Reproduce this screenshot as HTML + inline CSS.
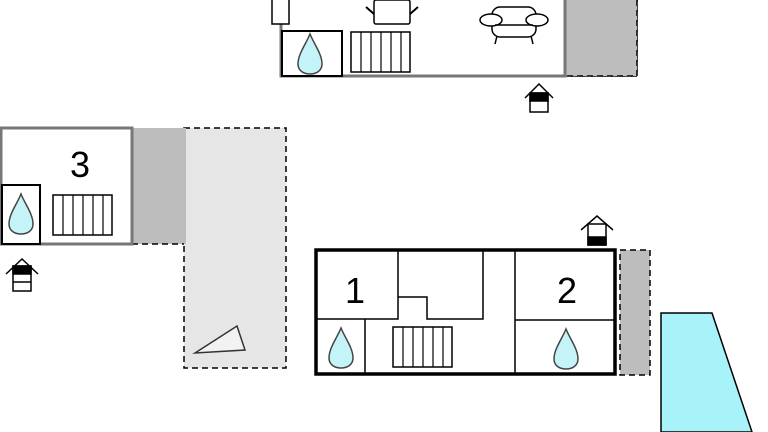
<!DOCTYPE html><html><head><style>body{margin:0;background:#fff}svg{display:block}</style></head><body>
<svg width="768" height="432" viewBox="0 0 768 432" xmlns="http://www.w3.org/2000/svg" font-family="Liberation Sans, sans-serif">
<defs>
<g id="drop"><path d="M0,-20 C-4,-10 -12,0 -12,10 C-12,17 -6,20 0,20 C6,20 12,17 12,10 C12,0 4,-10 0,-20Z" fill="#c4f4f8" stroke="#444" stroke-width="1.5"/></g>
<g id="rad"><rect x="0" y="0" width="59" height="40" fill="#fff" stroke="#000" stroke-width="1.5"/><path d="M10,0V40M20,0V40M30,0V40M40,0V40M50,0V40" stroke="#000" stroke-width="1.2"/></g>
</defs>
<!-- pool -->
<polygon points="661,313 712,313 752,432 661,432" fill="#a8f2fa" stroke="#000" stroke-width="1.5"/>
<!-- top building -->
<rect x="565" y="-2" width="72" height="78" fill="#bdbdbd" stroke="#000" stroke-width="1.5" stroke-dasharray="6,4"/>
<rect x="565" y="-2" width="72" height="78" fill="#bdbdbd"/>
<path d="M637,0V76H565" fill="none" stroke="#000" stroke-width="1.5" stroke-dasharray="6,4"/>
<path d="M281,0V76H565V0" fill="none" stroke="#777" stroke-width="3"/>
<rect x="272" y="-2" width="17" height="26" fill="#fff" stroke="#000" stroke-width="1.5"/>
<rect x="282" y="31" width="60" height="45" fill="#fff" stroke="#000" stroke-width="2"/>
<use href="#drop" transform="translate(310,54)"/>
<use href="#rad" transform="translate(351,32)"/>
<rect x="374" y="0" width="36" height="24" rx="2" fill="#fff" stroke="#000" stroke-width="1.5"/>
<path d="M366,7L374,14M418,7L410,14" stroke="#000" stroke-width="2"/>
<g fill="#fff" stroke="#000" stroke-width="1.5"><rect x="492" y="7" width="44" height="30" rx="8"/><ellipse cx="491" cy="20" rx="11" ry="6"/><ellipse cx="537" cy="20" rx="11" ry="6"/><path d="M495,25H533M497,36L495,44M531,36L533,44"/></g>
<!-- door icon top -->
<g transform="translate(539,98)" stroke="#000" stroke-width="1.5" fill="#fff"><path d="M-14,0L0,-14L14,0" fill="none"/><rect x="-9" y="-5" width="18" height="19"/><rect x="-9" y="-5" width="18" height="8" fill="#000"/></g>
<!-- building 3 -->
<rect x="184" y="128" width="102" height="240" fill="#e6e6e6" stroke="#000" stroke-width="1.5" stroke-dasharray="6,4"/>
<rect x="132" y="128" width="54" height="116" fill="#bdbdbd"/>
<path d="M132,244H184" stroke="#000" stroke-width="1.5" stroke-dasharray="6,4"/>
<rect x="1" y="128" width="131" height="116" fill="#fff" stroke="#777" stroke-width="3"/>
<text x="80" y="177" font-size="36" text-anchor="middle">3</text>
<rect x="2" y="185" width="38" height="59" fill="#fff" stroke="#000" stroke-width="2"/>
<use href="#drop" transform="translate(21,214)"/>
<use href="#rad" transform="translate(53,195)"/>
<polygon points="195,353 237,326 245,350" fill="#f2f2f2" stroke="#333" stroke-width="1.5"/>
<g transform="translate(22,266)" stroke="#000" stroke-width="1.5" fill="#fff"><path d="M-16,8L0,-7L16,8" fill="none"/><rect x="-9" y="0" width="18" height="25"/><rect x="-9" y="0" width="18" height="8" fill="#000"/><path d="M-9,16H9"/></g>
<!-- building 1/2 -->
<rect x="620" y="250" width="30" height="125" fill="#bdbdbd" stroke="#000" stroke-width="1.5" stroke-dasharray="6,4"/>
<rect x="316" y="250" width="299" height="124" fill="#fff" stroke="#000" stroke-width="3.5"/>
<g stroke="#000" stroke-width="1.5" fill="none">
<path d="M398,250V319H316"/>
<path d="M398,297H427V319H483V250"/>
<path d="M515,250V374"/>
<path d="M515,320H615"/>
<path d="M365,319V374"/>
</g>
<text x="355" y="303" font-size="36" text-anchor="middle">1</text>
<text x="567" y="303" font-size="36" text-anchor="middle">2</text>
<use href="#drop" transform="translate(341,348)"/>
<use href="#drop" transform="translate(566,349)"/>
<use href="#rad" transform="translate(393,327)"/>
<g transform="translate(597,230)" stroke="#000" stroke-width="1.5" fill="#fff"><path d="M-16,0L0,-14L16,0" fill="none"/><rect x="-9" y="-6" width="18" height="21"/><rect x="-9" y="7" width="18" height="8" fill="#000"/></g>
</svg>
</body></html>
